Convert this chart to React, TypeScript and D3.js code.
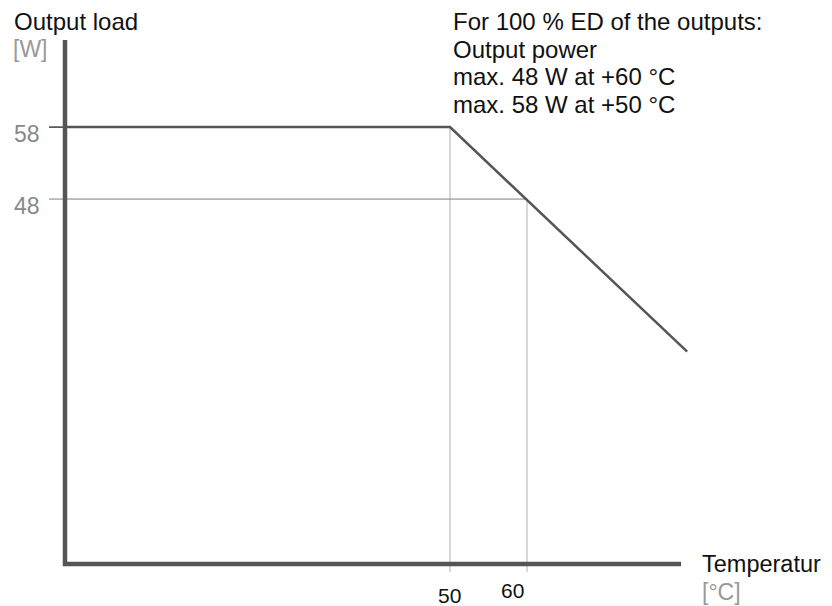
import React from "react";
import * as d3 from "d3";

const curveTemps = [0, 50, 80.8];
const curveLoads = [58, 58, 26.8];
const markLoads = [58, 48];
const markLoadLabels = ["58", "48"];
const markTemps = [50, 60];
const markTempLabels = ["50", "60"];
const noteLines = [
  "For 100 % ED of the outputs:",
  "Output power",
  "max. 48 W at +60 °C",
  "max. 58 W at +50 °C",
];
const xDomain = [0, 80];
const yDomain = [-2.7, 70.1];

const W = 832;
const H = 606;
const FONT = "Liberation Sans, Arial, Helvetica, sans-serif";

export default function App() {
  const x = d3.scaleLinear().domain(xDomain).range([65, 681]);
  const y = d3.scaleLinear().domain(yDomain).range([564, 40]);
  const pts: [number, number][] = curveTemps.map((t, i) => [t, curveLoads[i]]);
  const line = d3
    .line<[number, number]>()
    .x((d) => x(d[0]))
    .y((d) => y(d[1]));
  const loadAt = (t: number) => {
    for (let i = 0; i < pts.length - 1; i++) {
      if (t >= pts[i][0] && t <= pts[i + 1][0]) {
        const f = (t - pts[i][0]) / (pts[i + 1][0] - pts[i][0]);
        return pts[i][1] + f * (pts[i + 1][1] - pts[i][1]);
      }
    }
    return pts[pts.length - 1][1];
  };
  const tempAt = (w: number) => {
    for (let i = pts.length - 2; i >= 0; i--) {
      const a = pts[i], b = pts[i + 1];
      if ((w <= a[1] && w >= b[1]) || (w >= a[1] && w <= b[1])) {
        if (a[1] === b[1]) return b[0];
        return a[0] + ((w - a[1]) / (b[1] - a[1])) * (b[0] - a[0]);
      }
    }
    return 0;
  };
  const x0 = x(xDomain[0]);
  const y0 = y(yDomain[0]);

  return (
    <svg
      width={W}
      height={H}
      style={{ position: "absolute", left: 0, top: 0, background: "#fff" }}
      fontFamily={FONT}
    >
      <rect width={W} height={H} fill="#fff" />
      {markTemps.map((t, i) => (
        <line
          key={"vg" + i}
          x1={x(t)}
          x2={x(t)}
          y1={y(loadAt(t))}
          y2={y0 + 8}
          stroke="#b0b0b0"
          strokeWidth={1}
        />
      ))}
      {markLoads.map((w, i) => (
        <line
          key={"hg" + i}
          x1={x0 - 16}
          x2={x(tempAt(w))}
          y1={y(w)}
          y2={y(w)}
          stroke={i === 0 ? "#5a5a5a" : "#808080"}
          strokeWidth={i === 0 ? 1.8 : 1}
        />
      ))}
      <path d={line(pts) || ""} fill="none" stroke="#555" strokeWidth={2.5} />
      <line x1={x0} x2={x0} y1={y(yDomain[1])} y2={y0 + 2} stroke="#555" strokeWidth={4.5} />
      <line x1={x0 - 2} x2={x(xDomain[1])} y1={y0} y2={y0} stroke="#555" strokeWidth={4.5} />

      <text x={14} y={30} fontSize={24} fill="#111">Output load</text>
      <text x={13} y={57} fontSize={23} fill="#999">[W]</text>
      {markLoads.map((w, i) => (
        <text key={"yl" + i} x={14} y={y(w) + 15} fontSize={23} fill="#888">
          {markLoadLabels[i]}
        </text>
      ))}
      {markTemps.map((t, i) => (
        <text
          key={"xl" + i}
          x={x(t) + (i === 0 ? -12 : -26)}
          y={i === 0 ? 603 : 598}
          fontSize={21}
          fill="#111"
        >
          {markTempLabels[i]}
        </text>
      ))}
      <text x={702} y={572} fontSize={23.5} fill="#111">Temperatur</text>
      <text x={702} y={600} fontSize={23} fill="#999">[°C]</text>

      {noteLines.map((s, i) => (
        <text key={"n" + i} x={453} y={30 + i * 27.5} fontSize={24} fill="#111">
          {s}
        </text>
      ))}
    </svg>
  );
}
